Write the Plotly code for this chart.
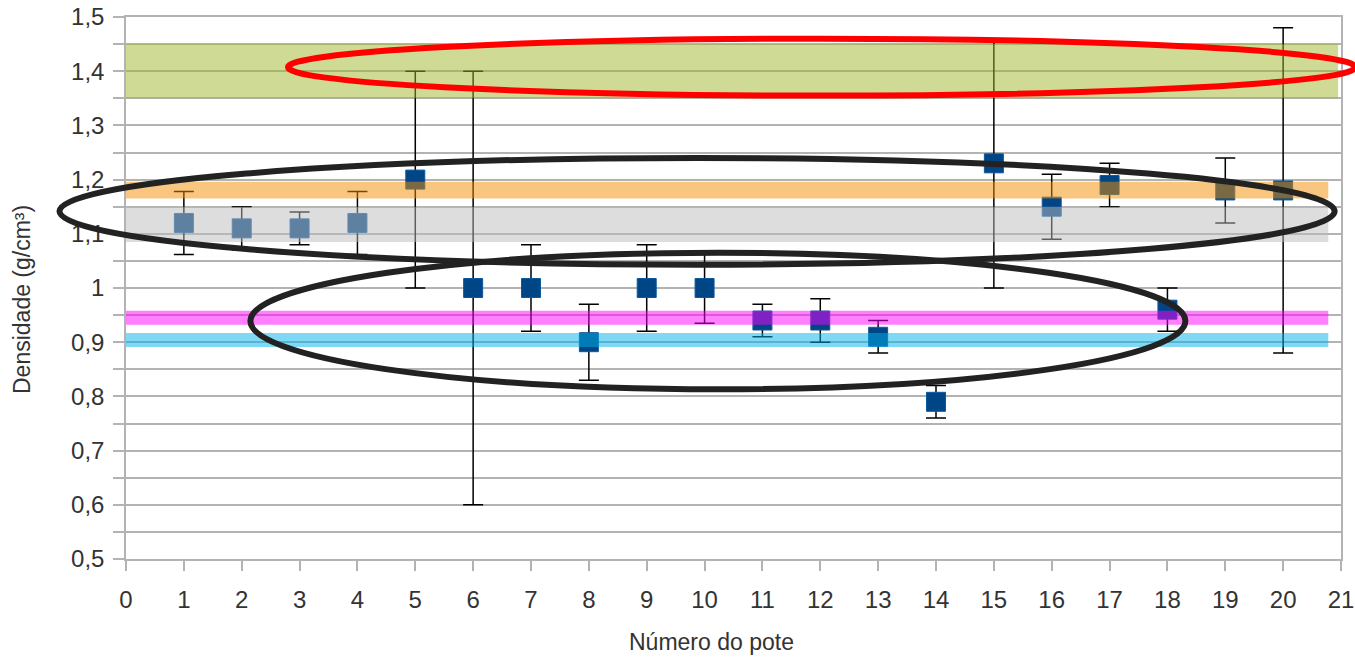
import plotly.graph_objects as go

# ---- data ----
pote = list(range(1, 21))
densidade = [1.12, 1.11, 1.11, 1.12, 1.20, 1.00, 1.00, 0.90, 1.00, 1.00,
             0.94, 0.94, 0.91, 0.79, 1.23, 1.15, 1.19, 0.96, 1.18, 1.18]
erro = [0.058, 0.04, 0.03, 0.058, 0.20, 0.40, 0.08, 0.07, 0.08, 0.065,
        0.03, 0.04, 0.03, 0.03, 0.23, 0.06, 0.04, 0.04, 0.06, 0.30]

x_ticks = list(range(0, 22))
y_ticks = [0.5, 0.6, 0.7, 0.8, 0.9, 1.0, 1.1, 1.2, 1.3, 1.4, 1.5]
y_minor = [0.55, 0.65, 0.75, 0.85, 0.95, 1.05, 1.15, 1.25, 1.35, 1.45]

# reference bands (x0, x1, y0, y1, color)
band_names = ["verde", "laranja", "cinza", "rosa", "ciano"]
band_x0 = [0.0, -0.12, -0.12, -0.12, 0.0]
band_x1 = [20.95, 20.78, 20.78, 20.78, 20.78]
band_y0 = [1.35, 1.165, 1.085, 0.932, 0.891]
band_y1 = [1.45, 1.196, 1.150, 0.958, 0.917]
band_colors = ["rgba(160,181,41,0.5)", "rgba(243,141,0,0.5)", "rgba(187,187,187,0.5)",
               "rgba(255,0,255,0.5)", "rgba(0,177,233,0.5)"]

# highlight ellipses (data units)
ell_x0 = [2.8, -1.15, 2.15]
ell_x1 = [21.25, 20.89, 18.31]
ell_y0 = [1.355, 1.043, 0.813]
ell_y1 = [1.46, 1.24, 1.065]
ell_colors = ["#ff0000", "#222222", "#222222"]

XR = [0, 21]
YR = [0.5, 1.5]

fig = go.Figure()
fig.add_trace(go.Scatter(
    x=pote, y=densidade, mode="markers",
    marker=dict(symbol="square", size=19, color="#004586",
                line=dict(width=1, color="#0b5a9e")),
    error_y=dict(type="data", array=erro, visible=True, color="#000000",
                 thickness=1.5, width=10),
    showlegend=False, hoverinfo="skip",
))

for x0, x1, y0, y1, c in zip(band_x0, band_x1, band_y0, band_y1, band_colors):
    fig.add_shape(type="rect", xref="x", yref="y", x0=x0, x1=x1, y0=y0, y1=y1,
                  fillcolor=c, line=dict(width=0), layer="above")


def px(v):
    return (v - XR[0]) / (XR[1] - XR[0])


def py(v):
    return (v - YR[0]) / (YR[1] - YR[0])


for x0, x1, y0, y1, c in zip(ell_x0, ell_x1, ell_y0, ell_y1, ell_colors):
    fig.add_shape(type="circle", xref="paper", yref="paper",
                  x0=px(x0), x1=px(x1), y0=py(y0), y1=py(y1),
                  line=dict(color=c, width=6), fillcolor="rgba(0,0,0,0)",
                  layer="above")

font_tick = dict(family="Liberation Sans, Arial, sans-serif", size=24, color="#333333")
grid_c = "#b3b3b3"

fig.update_layout(
    width=1355, height=659,
    margin=dict(l=126, r=14, t=17, b=100),
    paper_bgcolor="white", plot_bgcolor="white",
    separators=", ",
    font=dict(family="Liberation Sans, Arial, sans-serif", color="#333333"),
    xaxis=dict(range=XR, tickvals=x_ticks, showgrid=False, zeroline=False,
               showline=True, mirror=True, linecolor=grid_c, linewidth=1.5,
               ticks="outside", ticklen=10, tickcolor=grid_c, tickwidth=1.5,
               tickfont=font_tick, ticklabelstandoff=8, ticklabeloverflow="allow",
               automargin=False),
    yaxis=dict(range=YR, tickvals=y_ticks, showgrid=True, gridcolor=grid_c,
               gridwidth=1.5, zeroline=False, showline=True, mirror=True,
               linecolor=grid_c, linewidth=1.5,
               ticks="outside", ticklen=11, tickcolor=grid_c, tickwidth=1.5,
               tickfont=font_tick, ticklabelstandoff=4, ticklabeloverflow="allow",
               automargin=False,
               minor=dict(tickvals=y_minor, showgrid=True, gridcolor=grid_c, gridwidth=1.5,
                          ticks="outside", ticklen=11, tickcolor=grid_c, tickwidth=1.5)),
    annotations=[
        dict(text="Número do pote", xref="paper", yref="paper",
             x=(711 - 126) / 1215, y=(559 - 642) / 542, showarrow=False,
             font=dict(size=23, color="#333333"), xanchor="center", yanchor="middle"),
        dict(text="Densidade (g/cm³)", xref="paper", yref="paper",
             x=(22 - 126) / 1215, y=(559 - 300) / 542, showarrow=False, textangle=-90,
             font=dict(size=23, color="#333333"), xanchor="center", yanchor="middle"),
    ],
)

fig.write_html("out.html",
               config={"displayModeBar": False},
               post_script="document.body.style.margin='0px';"
                           "document.body.style.overflow='hidden';")
